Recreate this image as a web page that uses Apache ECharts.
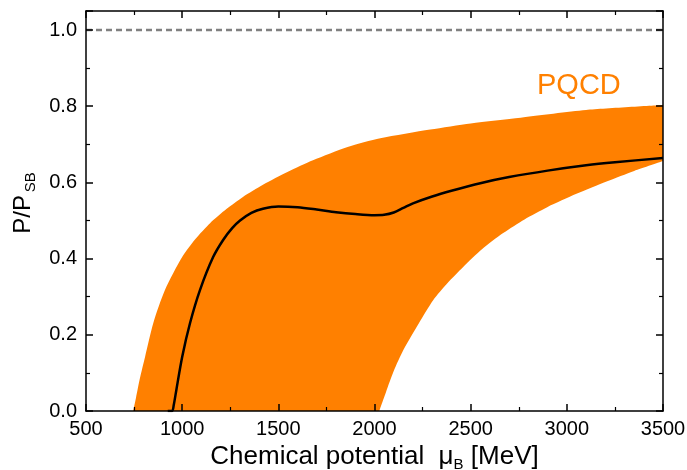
<!DOCTYPE html>
<html>
<head>
<meta charset="utf-8">
<script src="https://cdn.jsdelivr.net/npm/echarts@6/dist/echarts.min.js"></script>
<style>html,body{margin:0;padding:0;background:#fff}#c{width:687px;height:470px}</style>
</head>
<body>
<div id="c"></div>
<script>
// Upper edge of PQCD band
const xUpper = [745, 760, 780, 807, 850, 911, 1000, 1070, 1145, 1230, 1316, 1420, 1550, 1680, 1860, 2030, 2290, 2500, 2760, 3100, 3500];
const yUpper = [0, 0.035, 0.085, 0.142, 0.231, 0.318, 0.404, 0.452, 0.493, 0.530, 0.562, 0.594, 0.628, 0.658, 0.693, 0.716, 0.739, 0.755, 0.770, 0.790, 0.803];
// Lower edge of PQCD band
const xLower = [2025, 2060, 2100, 2150, 2230, 2305, 2380, 2461, 2560, 2669, 2780, 2898, 3050, 3210, 3350, 3500];
const yLower = [0, 0.05, 0.105, 0.16, 0.23, 0.291, 0.336, 0.378, 0.425, 0.467, 0.503, 0.535, 0.570, 0.603, 0.630, 0.656];
// Black curve
const xLine = [925, 948, 956, 970, 1000, 1041, 1093, 1161, 1213, 1260, 1301, 1360, 1420, 1500, 1600, 1700, 1800, 1900, 2000, 2050, 2100, 2150, 2200, 2300, 2400, 2550, 2700, 2900, 3100, 3250, 3500];
const yLine = [0, 0, 0.015, 0.056, 0.142, 0.231, 0.318, 0.404, 0.449, 0.480, 0.500, 0.520, 0.531, 0.537, 0.535, 0.529, 0.522, 0.517, 0.514, 0.515, 0.521, 0.533, 0.545, 0.563, 0.578, 0.598, 0.614, 0.631, 0.645, 0.653, 0.664];
// Stefan-Boltzmann limit
const xSB = [500, 3500];
const ySB = [1.0, 1.0];
const xTicks = [500, 1000, 1500, 2000, 2500, 3000, 3500];
const yTicks = [0.0, 0.2, 0.4, 0.6, 0.8, 1.0];

const zip = (xs, ys) => xs.map((x, i) => [x, ys[i]]);
const FONT = 'Liberation Sans, Arial, sans-serif';
const ORANGE = '#FF8000';

const axisCommon = {
  axisLine: { show: true, onZero: false, lineStyle: { color: '#000', width: 1.5 } },
  axisTick: { show: true, inside: true, length: 7, lineStyle: { color: '#000', width: 1.5 } },
  minorTick: { show: true, splitNumber: 2, length: 4, lineStyle: { color: '#000', width: 1.2 } },
  splitLine: { show: false },
  z: 10
};

const chart = echarts.init(document.getElementById('c'), null, { renderer: 'canvas' });
chart.setOption({
  animation: false,
  backgroundColor: '#fff',
  textStyle: { fontFamily: FONT },
  grid: { left: 86, right: 24, top: 11, bottom: 59, containLabel: false, outerBoundsMode: 'none' },
  xAxis: [
    Object.assign({}, axisCommon, {
      type: 'value', position: 'bottom', min: xTicks[0], max: xTicks[xTicks.length - 1], interval: 500,
      axisLabel: { color: '#000', fontSize: 20, fontFamily: FONT, margin: 8, formatter: v => String(v) },
      name: '{a|Chemical potential  μ}{b|B}{a| [MeV]}',
      nameLocation: 'middle', nameGap: 28,
      nameTextStyle: {
        rich: {
          a: { fontSize: 26, fontFamily: FONT, color: '#000', lineHeight: 30 },
          b: { fontSize: 15, fontFamily: FONT, color: '#000', verticalAlign: 'bottom', lineHeight: 14 }
        }
      }
    }),
    Object.assign({}, axisCommon, {
      type: 'value', position: 'top', min: 500, max: 3500, interval: 500,
      axisLabel: { show: false }
    })
  ],
  yAxis: [
    Object.assign({}, axisCommon, {
      type: 'value', position: 'left', min: 0, max: 1.05, interval: 0.2,
      axisLabel: { color: '#000', fontSize: 20, fontFamily: FONT, margin: 9, showMaxLabel: false,
        formatter: v => (yTicks.some(t => Math.abs(t - v) < 1e-9) ? v.toFixed(1) : '') },
      name: '{a|P/P}{s| }{b|SB}',
      nameLocation: 'middle', nameGap: 43,
      nameTextStyle: {
        padding: [0, 0, 0, 16],
        rich: {
          a: { fontSize: 24, fontFamily: FONT, color: '#000', lineHeight: 30 },
          s: { fontSize: 10, fontFamily: FONT, lineHeight: 14 },
          b: { fontSize: 15, fontFamily: FONT, color: '#000', verticalAlign: 'bottom', lineHeight: 14 }
        }
      }
    }),
    Object.assign({}, axisCommon, {
      type: 'value', position: 'right', min: 0, max: 1.05, interval: 0.2,
      axisLabel: { show: false }
    })
  ],
  graphic: [{
    type: 'text', left: 537, top: 71,
    style: { text: 'PQCD', fill: ORANGE, font: '29px ' + FONT }
  }],
  series: [
    {
      type: 'line', data: zip(xUpper, yUpper), smooth: 0.25, symbol: 'none',
      lineStyle: { width: 0 }, areaStyle: { color: ORANGE, opacity: 1 }, z: 1, silent: true
    },
    {
      type: 'line', data: zip(xLower, yLower), smooth: 0.25, symbol: 'none',
      lineStyle: { width: 0 }, areaStyle: { color: '#fff', opacity: 1 }, z: 2, silent: true
    },
    {
      type: 'line', data: zip(xSB, ySB), symbol: 'none',
      lineStyle: { color: '#808080', width: 2.4, type: [6, 4] }, z: 3, silent: true
    },
    {
      type: 'line', data: zip(xLine, yLine), smooth: 0.3, symbol: 'none',
      lineStyle: { color: '#000', width: 2.5 }, z: 4, silent: true
    }
  ]
});
</script>
</body>
</html>
